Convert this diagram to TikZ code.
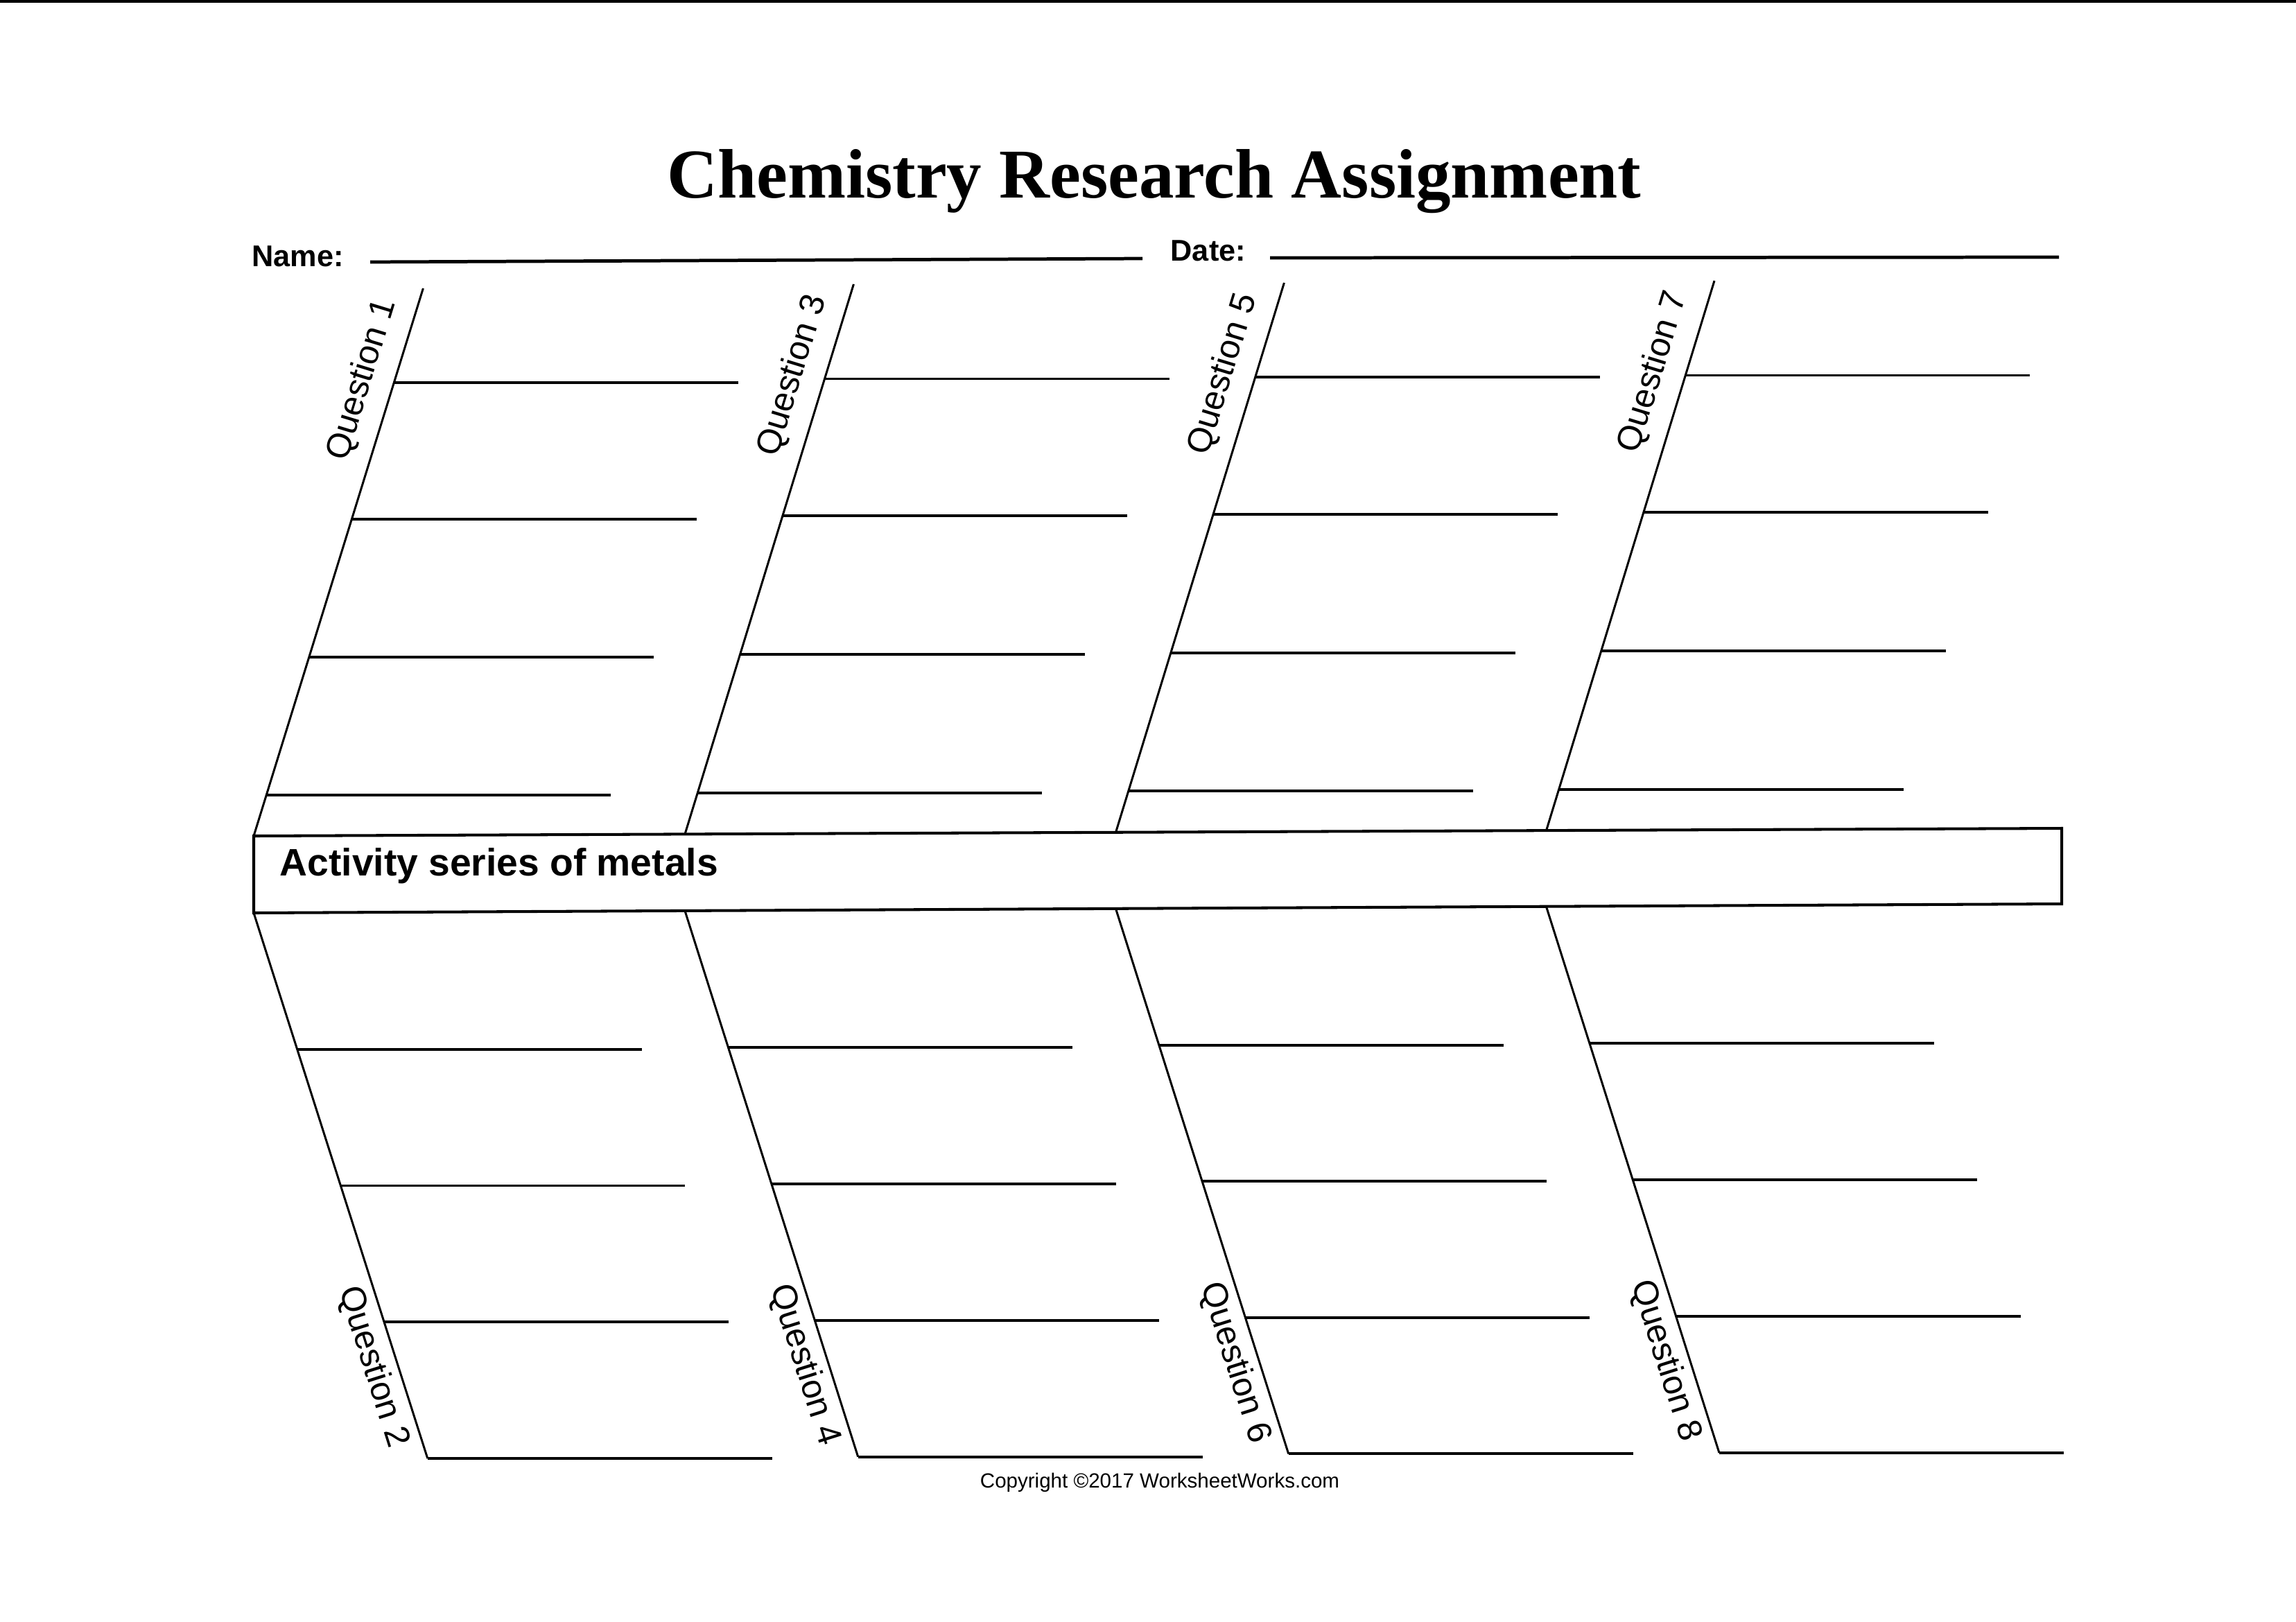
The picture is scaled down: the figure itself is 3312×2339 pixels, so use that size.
\documentclass[tikz,border=0pt]{standalone}
\usepackage{fontspec}
\setmainfont{Liberation Serif}
\setsansfont{Liberation Sans}
\usetikzlibrary{calc}
\begin{document}
\begin{tikzpicture}[x=0.01cm,y=-0.01cm,
  branch/.style={line width=1.1pt},
  spineline/.style={line width=0.85pt},
  boxline/.style={line width=1.15pt},
  fieldline/.style={line width=1.35pt},
  qlabel/.style={font=\sffamily\fontsize{14.1}{16}\selectfont, inner sep=0pt},
  fieldlabel/.style={font=\sffamily\bfseries\fontsize{12.3}{14}\selectfont, inner sep=0pt, anchor=base west},
  ]
\useasboundingbox (0,0) rectangle (3312,2339);
\fill[white] (0,0) rectangle (3312,2339);
\fill[black] (0,0) rectangle (3312,4);

% title
\node[font=\rmfamily\bfseries\fontsize{28.7}{32}\selectfont, inner sep=0pt, anchor=base] (title) at (1665,285) {Chemistry Research Assignment};

% name / date
\node[fieldlabel] (name) at (363,384) {Name:};
\coordinate (nameA) at (534,378);
\coordinate (nameB) at (1648,373);
\draw[fieldline] (nameA) -- (nameB);
\node[fieldlabel] (date) at (1688,376) {Date:};
\coordinate (dateA) at (1832,372);
\coordinate (dateB) at (2970,371);
\draw[fieldline] (dateA) -- (dateB);

% central box
\coordinate (boxTL) at (366,1206);
\coordinate (boxTR) at (2974,1195);
\coordinate (boxBR) at (2974,1304);
\coordinate (boxBL) at (366,1317);
\draw[boxline] (boxTL) -- (boxTR) -- (boxBR) -- (boxBL) -- cycle;
\node[font=\sffamily\bfseries\fontsize{15.7}{18}\selectfont, inner sep=0pt, anchor=base west] (topic) at (403,1263) {Activity series of metals};

% top spines
\foreach \n/\tx/\ty/\bx/\by in {1/610.4/416/366/1206, 3/1231.4/410/988/1203.4, 5/1852.4/408/1609.5/1200.8, 7/2473/405/2230.5/1198.2}{
  \coordinate (t\n) at (\tx,\ty);
  \coordinate (b\n) at (\bx,\by);
  \draw[spineline] (t\n) -- (b\n);
  \foreach \f [count=\k] in {0.172,0.421,0.673,0.925}{
    \coordinate (s\n-\k) at ($(t\n)!\f!(b\n)$);
    \coordinate (e\n-\k) at ($(s\n-\k)+(497,0)$);
    \draw[branch] (s\n-\k) -- (e\n-\k);
  }
  \node[qlabel, rotate=73] (q\n) at ($(t\n)+(-88,132)$) {Question \n};
}

% bottom spines
\foreach \n/\tx/\ty/\bx/\by in {2/366/1317/616.8/2104, 4/988/1314/1237.7/2101.6, 6/1609.5/1311/1858.7/2097.4, 8/2230.5/1308/2480/2096}{
  \coordinate (t\n) at (\tx,\ty);
  \coordinate (b\n) at (\bx,\by);
  \draw[spineline] (t\n) -- (b\n);
  \foreach \f [count=\k] in {0.25,0.5,0.75,1}{
    \coordinate (s\n-\k) at ($(t\n)!\f!(b\n)$);
    \coordinate (e\n-\k) at ($(s\n-\k)+(497,0)$);
    \draw[branch] (s\n-\k) -- (e\n-\k);
  }
  \node[qlabel, rotate=-72.5] (q\n) at ($(t\n)+(172,655)$) {Question \n};
}

% copyright
\node[font=\sffamily\fontsize{8.4}{10}\selectfont, inner sep=0pt, anchor=base] (copy) at (1673,2146) {Copyright \textcopyright2017 WorksheetWorks.com};
\end{tikzpicture}
\end{document}
